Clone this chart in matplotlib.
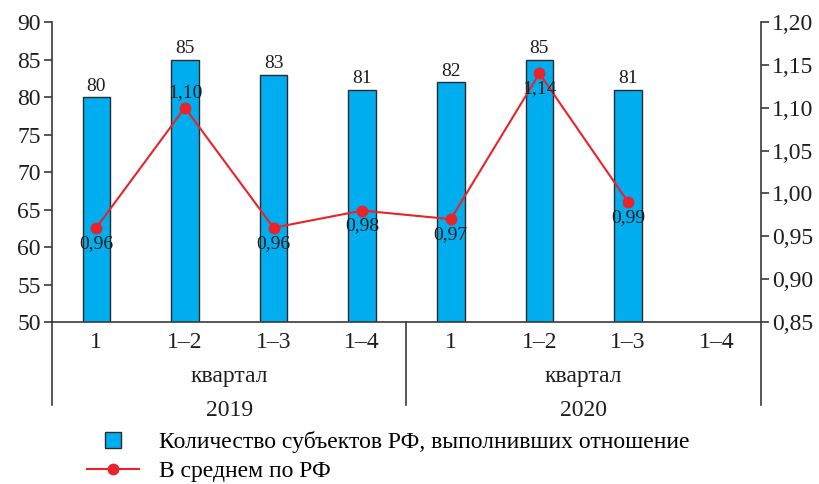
import matplotlib
matplotlib.use("Agg")
import matplotlib.pyplot as plt
from matplotlib.lines import Line2D

plt.rcParams['font.family'] = ['Liberation Serif', 'DejaVu Serif']

quarters = ["1", "1\u20132", "1\u20133", "1\u20134", "1", "1\u20132", "1\u20133", "1\u20134"]
years = ["2019", "2020"]
regions_count = [80, 85, 83, 81, 82, 85, 81]
avg_ratio = [0.96, 1.10, 0.96, 0.98, 0.97, 1.14, 0.99]
ratio_label_above = [False, True, False, False, False, False, False]

bar_color = "#00AEEF"
line_color = "#E8232A"
axis_color = "#3a3a3a"
text_color = "#1e1e1e"

fig = plt.figure(figsize=(8.2, 4.84), dpi=100)
ax = fig.add_axes([0.0634, 0.3347, 0.8646, 0.6198])
ax2 = ax.twinx()

x = list(range(len(quarters)))
xb = x[:len(regions_count)]
ax.bar(xb, regions_count, width=0.31, color=bar_color, edgecolor="#2b2b2b",
       linewidth=1.0, zorder=2)
for xi, v in zip(xb, regions_count):
    ax.text(xi, v + 0.3, f"{v}", ha="center", va="bottom", fontsize=14, color=text_color)

ax.set_ylim(50, 90)
ax.set_yticks(range(50, 91, 5))
ax.set_xlim(-0.5, len(quarters) - 0.5)
ax.set_xticks(x)
ax.set_xticklabels(quarters, fontsize=17)
ax.tick_params(axis="x", length=0, pad=7, colors=text_color)
ax.tick_params(axis="y", labelsize=17, length=6, width=1.2, color=axis_color,
               labelcolor=text_color, pad=2)

xl = x[:len(avg_ratio)]
ax2.plot(xl, avg_ratio, color=line_color, lw=1.5, marker="o", markersize=7.5,
         zorder=3)
for xi, v, above in zip(xl, avg_ratio, ratio_label_above):
    txt = f"{v:.2f}".replace(".", ",")
    if above:
        ax2.annotate(txt, (xi, v), xytext=(0, 5), textcoords="offset points",
                     ha="center", va="bottom", fontsize=14, color=text_color)
    else:
        ax2.annotate(txt, (xi, v), xytext=(0, -5), textcoords="offset points",
                     ha="center", va="top", fontsize=14, color=text_color)
ax2.set_ylim(0.85, 1.20)
ax2.set_yticks([0.85 + 0.05 * i for i in range(8)])
ax2.set_yticklabels([f"{0.85 + 0.05 * i:.2f}".replace(".", ",") for i in range(8)])
ax2.tick_params(axis="y", labelsize=17, length=6, width=1.2, color=axis_color,
                labelcolor=text_color, pad=2)

for a in (ax, ax2):
    a.spines["top"].set_visible(False)
    for s in ("left", "right", "bottom"):
        a.spines[s].set_color(axis_color)
        a.spines[s].set_linewidth(1.2)
ax.spines["right"].set_visible(False)
ax2.spines["left"].set_visible(False)
ax2.spines["bottom"].set_visible(False)

# group separators below the axis
low = -0.277
for xf in (0.0, 0.5, 1.0):
    ax.add_line(Line2D([xf, xf], [0, low], transform=ax.transAxes, color=axis_color,
                       lw=1.2, clip_on=False))

for i, yr in enumerate(years):
    cx = 0.25 + 0.5 * i
    ax.text(cx, -0.18, "квартал", transform=ax.transAxes, ha="center", va="center",
            fontsize=17, color=text_color)
    ax.text(cx, -0.295, yr, transform=ax.transAxes, ha="center", va="center",
            fontsize=17, color=text_color)

handles = [
    Line2D([], [], ls="none", marker="s", markersize=12, markerfacecolor=bar_color,
           markeredgecolor="#2b2b2b", markeredgewidth=1.0),
    Line2D([], [], color=line_color, lw=1.5, marker="o", markersize=7.5),
]
labels = ["Количество субъектов РФ, выполнивших отношение", "В среднем по РФ"]
fig.legend(handles, labels, loc="lower left", bbox_to_anchor=(0.086, -0.03),
           frameon=False, fontsize=17, handlelength=2.2, handletextpad=0.85,
           labelspacing=0.32, borderpad=0.2)

fig.savefig("out.png", dpi=100)
